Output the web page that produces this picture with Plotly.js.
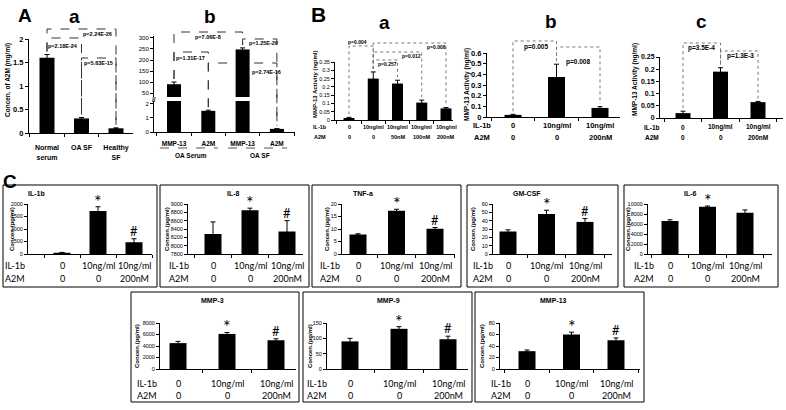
<!DOCTYPE html>
<html><head><meta charset="utf-8">
<script src="https://cdn.plot.ly/plotly-3.0.1.min.js"></script>
<style>html,body{margin:0;padding:0;background:#fff}</style>
</head><body><div id="chart" style="width:786px;height:410px"></div>
<script>
// ---------------- DATA ----------------
// Panel A-a
const aaCats = ['Normal<br>serum', 'OA SF', 'Healthy<br>SF'];
const aaVals = [1.60, 0.31, 0.10];
const aaErr  = [0.07, 0.02, 0.01];
const aaP    = ['p=2.18E-24', 'p=2.24E-26', 'p=5.63E-15'];
// Panel A-b
const abGroups  = ['OA Serum', 'OA Serum', 'OA SF', 'OA SF'];
const abMarkers = ['MMP-13', 'A2M', 'MMP-13', 'A2M'];
const abVals = [90, 1.5, 248, 0.22];
const abErr  = [10, 0.05, 7, 0.02];
const abP    = ['p=1.31E-17', 'p=7.06E-8', 'p=1.25E-29', 'p=2.74E-16'];
// Panel B-a
const baIL1b = ['0', '10ng/ml', '10ng/ml', '10ng/ml', '10ng/ml'];
const baA2M  = ['0', '0', '50nM', '100nM', '200nM'];
const baVals = [0.012, 0.25, 0.22, 0.105, 0.07];
const baErr  = [0.004, 0.04, 0.02, 0.015, 0.005];
const baP    = ['p=0.004', 'p=0.008', 'p=0.012', 'p=0.257'];
// Treatments used in B-b, B-c and all of C
const trtIL1b = ['0', '10ng/ml', '10ng/ml'];
const trtA2M  = ['0', '0', '200nM'];
// Panel B-b
const bbVals = [0.02, 0.375, 0.085];
const bbErr  = [0.005, 0.12, 0.012];
const bbP    = ['p=0.005', 'p=0.008'];
// Panel B-c
const bcVals = [0.02, 0.19, 0.065];
const bcErr  = [0.008, 0.016, 0.003];
const bcP    = ['p=3.5E-4', 'p=1.3E-3'];
// Panel C
const il1bVals = [50, 1720, 470];     const il1bErr = [15, 170, 140];
const il8Vals  = [8280, 8850, 8340];  const il8Err  = [290, 50, 260];
const tnfVals  = [7.8, 17.3, 10.1];   const tnfErr  = [0.3, 0.6, 0.5];
const gmVals   = [27, 48, 38.5];      const gmErr   = [2, 4.5, 4];
const il6Vals  = [6600, 9450, 8250];  const il6Err  = [250, 150, 560];
const mmp3Vals = [4500, 6100, 5000];  const mmp3Err = [300, 250, 250];
const mmp9Vals = [90, 131, 97];       const mmp9Err = [10, 7, 10];
const mmp13Vals= [31, 60, 50];        const mmp13Err= [2, 4, 4];
const sigStd   = ['', '*', '#'];
const sigIL6   = ['', '*', ''];
const cTitles  = ['IL-1b', 'IL-8', 'TNF-a', 'GM-CSF', 'IL-6', 'MMP-3', 'MMP-9', 'MMP-13'];
const cYTitle  = 'Concen.(pg/ml)';

// ---------------- HELPERS ----------------
const W = 786, H = 410;
const fx = x => x / W, fy = y => 1 - y / H;
const AR = '"Liberation Sans", Arial, sans-serif';
const LT = 'Lato, "Liberation Sans", sans-serif';
const data = [], shapes = [], annotations = [];
const layout = {width: W, height: H, margin: {l: 0, r: 0, t: 0, b: 0, pad: 0}, showlegend: false,
  paper_bgcolor: '#fff', plot_bgcolor: 'rgba(0,0,0,0)', shapes, annotations, hovermode: false};
let n = 0;
function panel(g, cats, vals, errs, yo = {}, xo = {}) {
  n++;
  const s = n === 1 ? '' : String(n);
  const xr = 'x' + s, yr = 'y' + s;
  layout['xaxis' + s] = Object.assign({domain: [fx(g.L), fx(g.R)], range: [(g.L - g.c0) / g.sp, (g.R - g.c0) / g.sp],
    type: 'category', categoryorder: 'array', categoryarray: cats, anchor: yr, showline: true, linecolor: '#000',
    linewidth: 1, ticks: 'outside', tickson: 'boundaries', ticklen: 3, tickcolor: '#000', tickwidth: 1,
    showgrid: false, zeroline: false, showticklabels: false, fixedrange: true}, xo);
  layout['yaxis' + s] = Object.assign({domain: [fy(g.bottom), fy(g.top)], range: [g.ymin, g.ymax], anchor: xr,
    showline: true, linecolor: '#000', linewidth: 1, ticks: 'outside', ticklen: 3, tickcolor: '#000', tickwidth: 1,
    showgrid: false, zeroline: false, fixedrange: true, exponentformat: 'none',
    tickfont: {family: AR, size: 6.5, color: '#000'}}, yo);
  data.push({type: 'bar', x: cats, y: vals, xaxis: xr, yaxis: yr, width: g.bw / g.sp,
    marker: {color: '#000', line: {width: 0}},
    error_y: {type: 'data', array: errs, visible: true, color: '#000', thickness: 1, width: 2.5}, hoverinfo: 'skip'});
  return {xr, yr, g, xpx: i => g.c0 + i * g.sp,
    ypx: v => g.bottom - (Math.min(Math.max(v, g.ymin), g.ymax) - g.ymin) / (g.ymax - g.ymin) * (g.bottom - g.top)};
}
function T(x, y, text, size, o = {}) {
  annotations.push(Object.assign({xref: 'paper', yref: 'paper', x: fx(x), y: fy(y), text, showarrow: false,
    xanchor: 'center', yanchor: 'middle', borderpad: 0, font: {family: AR, size, color: '#000'}}, o));
}
function pth(pts, dash, color, w) {
  shapes.push({type: 'path', xref: 'paper', yref: 'paper', layer: 'below',
    path: 'M' + pts.map(p => fx(p[0]).toFixed(5) + ',' + fy(p[1]).toFixed(5)).join(' L'),
    line: {color, width: w || 1, dash}});
}
function bracket(xi, xj, lvl, topI, topJ, dash, color) {
  pth([[xi, topI], [xi, lvl], [xj, lvl], [xj, topJ]], dash, color);
}
const joinCats = (a, b) => a.map((v, i) => v + '|' + b[i]);

// ---------------- PANEL A-a ----------------
const pAa = panel({L: 29, R: 133, top: 39, bottom: 133, c0: 47, sp: 34.5, ymin: 0, ymax: 2, bw: 15}, aaCats, aaVals, aaErr,
  {dtick: 0.5, tickfont: {family: AR, size: 7.5, color: '#000', weight: 700}},
  {showticklabels: true, tickfont: {family: AR, size: 7, color: '#000', weight: 700}, ticklabelstandoff: 8});
{
  const top = i => pAa.ypx(aaVals[i] + aaErr[i]) - 3;
  const dc = '#333';
  bracket(pAa.xpx(0), pAa.xpx(1), 38, top(0), top(1), 'dash', dc);
  bracket(pAa.xpx(0), pAa.xpx(2), 29, top(0), top(2), 'dash', dc);
  bracket(pAa.xpx(1), pAa.xpx(2), 58, top(1), top(2), 'dash', dc);
  const pf = {family: AR, size: 5.5, color: '#000', weight: 700};
  T(63, 46, aaP[0], 5.5, {font: pf});
  T(97, 34, aaP[1], 5.5, {font: pf});
  T(98, 63, aaP[2], 5.5, {font: pf});
  T(8, 80, 'Concen. of A2M (mg/ml)', 6.5, {textangle: -90, font: {family: AR, size: 6.5, color: '#000', weight: 700}});
}
T(25, 15, '<b>A</b>', 19);
T(74, 16, '<b>a</b>', 19);

// ---------------- PANEL A-b (broken axis) ----------------
const abCats = abGroups.map((g, i) => g + ' ' + abMarkers[i] + ' ' + i);
const gAbLo = {L: 154, R: 295, top: 101, bottom: 132, c0: 174, sp: 34.3, ymin: 0, ymax: 2.2, bw: 14};
const gAbHi = {L: 154, R: 295, top: 36, bottom: 97, c0: 174, sp: 34.3, ymin: 32, ymax: 309, bw: 14};
const pAbLo = panel(gAbLo, abCats, abVals, abErr,
  {tickvals: [0, 1, 2], tickfont: {family: AR, size: 6, color: '#000'}},
  {showticklabels: true, tickvals: abCats, ticktext: abMarkers, tickfont: {family: AR, size: 6.5, color: '#000', weight: 700}, ticklabelstandoff: 5});
const pAbHi = panel(gAbHi, abCats, abVals, abErr,
  {tickvals: [50, 100, 150, 200, 250, 300], tickfont: {family: AR, size: 6, color: '#000'}},
  {visible: false});
{
  const top = i => (abMarkers[i] === 'MMP-13' ? pAbHi.ypx(abVals[i] + abErr[i]) : pAbLo.ypx(abVals[i] + abErr[i])) - 3;
  const dc = '#333';
  const x = i => pAbLo.xpx(i);
  bracket(x(0), x(1), 52, top(0), top(1), 'dash', dc);
  bracket(x(0), x(2), 32, top(0), top(2), 'dash', dc);
  bracket(x(2), x(3), 39, top(2), top(3), 'dash', dc);
  bracket(x(1), x(3), 63, top(1), top(3), 'dash', dc);
  const pf = {family: AR, size: 5.5, color: '#000', weight: 700};
  T(190, 58, abP[0], 5.5, {font: pf});
  T(208, 37, abP[1], 5.5, {font: pf});
  T(263, 43, abP[2], 5.5, {font: pf});
  T(266, 72, abP[3], 5.5, {font: pf});
  T(154, 99, '<b>//</b>', 6.5);
  pth([[160, 148], [218, 148]], 'dash', '#555');
  pth([[228, 148], [287, 148]], 'dash', '#555');
  T((x(0) + x(1)) / 2, 155, abGroups[0], 6.5, {font: {family: AR, size: 6.5, color: '#000', weight: 700}});
  T((x(2) + x(3)) / 2, 155, abGroups[2], 6.5, {font: {family: AR, size: 6.5, color: '#000', weight: 700}});
}
T(210, 16, '<b>b</b>', 19);

// ---------------- PANEL B ----------------
function treatRows(p, il1b, a2m, hx, r1, r2, size, font) {
  const f = {family: font, size, color: '#000', weight: font === AR ? 700 : 400};
  il1b.forEach((v, i) => annotations.push({xref: p.xr, yref: 'paper', x: i, y: fy(r1), text: v, showarrow: false,
    xanchor: 'center', yanchor: 'middle', borderpad: 0, font: f}));
  a2m.forEach((v, i) => annotations.push({xref: p.xr, yref: 'paper', x: i, y: fy(r2), text: v, showarrow: false,
    xanchor: 'center', yanchor: 'middle', borderpad: 0, font: f}));
  T(hx, r1, 'IL-1b', size, {font: f});
  T(hx, r2, 'A2M', size, {font: f});
}
const dotC = '#777';
// B-a
const baCats = joinCats(baIL1b, baA2M);
const pBa = panel({L: 335, R: 453, top: 62, bottom: 120, c0: 349, sp: 24.25, ymin: 0, ymax: 0.35, bw: 11}, baCats, baVals, baErr,
  {dtick: 0.05, tickfont: {family: AR, size: 5.5, color: '#000'}});
treatRows(pBa, baIL1b, baA2M, 320, 127, 137, 5.5, AR);
{
  const top = i => pBa.ypx(baVals[i] + baErr[i]) - 3;
  const x = i => pBa.xpx(i);
  bracket(x(0), x(1), 46, top(0), top(1), 'dot', dotC);
  bracket(x(1), x(4), 43, top(1), top(4), 'dot', dotC);
  bracket(x(1), x(3), 52, top(1), top(3), 'dot', dotC);
  bracket(x(1), x(2), 60, top(1), top(2), 'dot', dotC);
  const pf = {family: AR, size: 5, color: '#000', weight: 700};
  T(357, 42, baP[0], 5, {font: pf});
  T(437, 47, baP[1], 5, {font: pf});
  T(411, 56, baP[2], 5, {font: pf});
  T(387, 64, baP[3], 5, {font: pf});
  T(315, 85, 'MMP-13 Activity (ng/ml)', 6, {textangle: -90, font: {family: AR, size: 6, color: '#000', weight: 700}});
}
T(318, 14, '<b>B</b>', 21);
T(384, 22, '<b>a</b>', 19);
// B-b
const trtCats = joinCats(trtIL1b, trtA2M);
const pBb = panel({L: 487, R: 620, top: 53, bottom: 117, c0: 513, sp: 43.5, ymin: 0, ymax: 0.6, bw: 17}, trtCats, bbVals, bbErr,
  {dtick: 0.1, tickfont: {family: AR, size: 7.5, color: '#000', weight: 700}});
treatRows(pBb, trtIL1b, trtA2M, 482, 125, 137, 7.5, AR);
{
  const top = i => pBb.ypx(bbVals[i] + bbErr[i]) - 3;
  const x = i => pBb.xpx(i);
  bracket(x(0), x(1), 41, top(0), top(1), 'dot', dotC);
  bracket(x(1), x(2), 47, top(1), top(2), 'dot', dotC);
  const pf = {family: AR, size: 6.5, color: '#000', weight: 700};
  T(536, 47, bbP[0], 6.5, {font: pf});
  T(578, 62, bbP[1], 6.5, {font: pf});
  T(467, 85, 'MMP-13 Activity (ng/ml)', 6.5, {textangle: -90, font: {family: AR, size: 6.5, color: '#000', weight: 700}});
}
T(551, 21, '<b>b</b>', 19);
// B-c
const pBc = panel({L: 660, R: 783, top: 57, bottom: 118, c0: 683, sp: 37.5, ymin: 0, ymax: 0.25, bw: 15}, trtCats, bcVals, bcErr,
  {dtick: 0.05, tickfont: {family: AR, size: 7, color: '#000', weight: 700}});
treatRows(pBc, trtIL1b, trtA2M, 652, 127, 137, 6.5, AR);
{
  const top = i => pBc.ypx(bcVals[i] + bcErr[i]) - 3;
  const x = i => pBc.xpx(i);
  bracket(x(0), x(1), 43, top(0), top(1), 'dot', dotC);
  bracket(x(1), x(2), 51, top(1), top(2), 'dot', dotC);
  const pf = {family: AR, size: 6.5, color: '#000', weight: 700};
  T(701, 48, bcP[0], 6.5, {font: pf});
  T(740, 56, bcP[1], 6.5, {font: pf});
  T(635, 80, 'MMP-13 Activity (ng/ml)', 6.5, {textangle: -90, font: {family: AR, size: 6.5, color: '#000', weight: 700}});
}
T(701, 21, '<b>c</b>', 19);

// ---------------- PANEL C ----------------
T(10, 182, '<b>C</b>', 19);
const row1 = {top: 204, bottom: 254, by0: 185, by1: 287, ty: 193, yty: 229, r1: 265, r2: 278};
const row2 = {top: 323, bottom: 369, by0: 292, by1: 402, ty: 300, yty: 346, r1: 383, r2: 395};
const sigStyle = {'*': {size: 18, shift: 6}, '#': {size: 13, shift: 8}};
const cPanels = [
  {vals: il1bVals, errs: il1bErr, sig: sigStd, row: row1, L: 28,  R: 152, c0: 62,  sp: 36,   ymin: 0, ymax: 2000, dtick: 500, box: [3, 157],   tx: 36,  ytx: 12,  hx: 15},
  {vals: il8Vals,  errs: il8Err,  sig: sigStd, row: row1, L: 188, R: 303, c0: 213, sp: 37,   ymin: 7800, ymax: 9000, dtick: 200, box: [160, 309], tx: 233, ytx: 167, hx: 179},
  {vals: tnfVals,  errs: tnfErr,  sig: sigStd, row: row1, L: 342, R: 455, c0: 358, sp: 38.5, ymin: 0, ymax: 20, dtick: 5, box: [312, 461],   tx: 363, ytx: 327, hx: 330},
  {vals: gmVals,   errs: gmErr,   sig: sigStd, row: row1, L: 493, R: 612, c0: 508, sp: 38.5, ymin: 0, ymax: 60, dtick: 10, box: [467, 618],  tx: 527, ytx: 473, hx: 483},
  {vals: il6Vals,  errs: il6Err,  sig: sigIL6, row: row1, L: 648, R: 772, c0: 670, sp: 37.5, ymin: 0, ymax: 10000, dtick: 2000, box: [624, 778], tx: 690, ytx: 628, hx: 644},
  {vals: mmp3Vals, errs: mmp3Err, sig: sigStd, row: row2, L: 160, R: 296, c0: 178, sp: 49,   ymin: 0, ymax: 8000, dtick: 2000, box: [131, 299], tx: 212, ytx: 137, hx: 147},
  {vals: mmp9Vals, errs: mmp9Err, sig: sigStd, row: row2, L: 327, R: 468, c0: 350, sp: 49,   ymin: 0, ymax: 150, dtick: 50, box: [303, 472],  tx: 388, ytx: 310, hx: 317},
  {vals: mmp13Vals,errs: mmp13Err,sig: sigStd, row: row2, L: 500, R: 640, c0: 527, sp: 44.5, ymin: 0, ymax: 80, dtick: 20, box: [475, 644],   tx: 553, ytx: 482, hx: 501}
];
cPanels.forEach((c, k) => {
  const r = c.row;
  const p = panel({L: c.L, R: c.R, top: r.top, bottom: r.bottom, c0: c.c0, sp: c.sp, ymin: c.ymin, ymax: c.ymax, bw: 17},
    trtCats, c.vals, c.errs, {dtick: c.dtick, tickformat: 'd', tickfont: {family: AR, size: 5.5, color: '#000'}});
  shapes.push({type: 'rect', xref: 'paper', yref: 'paper', x0: fx(c.box[0]), x1: fx(c.box[1]), y0: fy(r.by1), y1: fy(r.by0),
    line: {color: '#000', width: 1}, layer: 'below'});
  T(c.tx, r.ty, cTitles[k], 7, {font: {family: AR, size: 7, color: '#000', weight: 700}});
  T(c.ytx, r.yty, cYTitle, 6, {textangle: -90, font: {family: AR, size: 6, color: '#000', weight: 700}});
  treatRows(p, trtIL1b, trtA2M, c.hx, r.r1, r.r2, 9, LT);
  c.sig.forEach((s, i) => {
    if (!s) return;
    const st = sigStyle[s];
    annotations.push({xref: p.xr, yref: p.yr, x: i, y: c.vals[i] + c.errs[i], text: s, showarrow: false,
      xanchor: 'center', yanchor: 'middle', yshift: st.shift, borderpad: 0, font: {family: LT, size: st.size, color: '#000'}});
  });
});

Plotly.newPlot('chart', data, layout, {staticPlot: true, displayModeBar: false});
</script></body></html>
